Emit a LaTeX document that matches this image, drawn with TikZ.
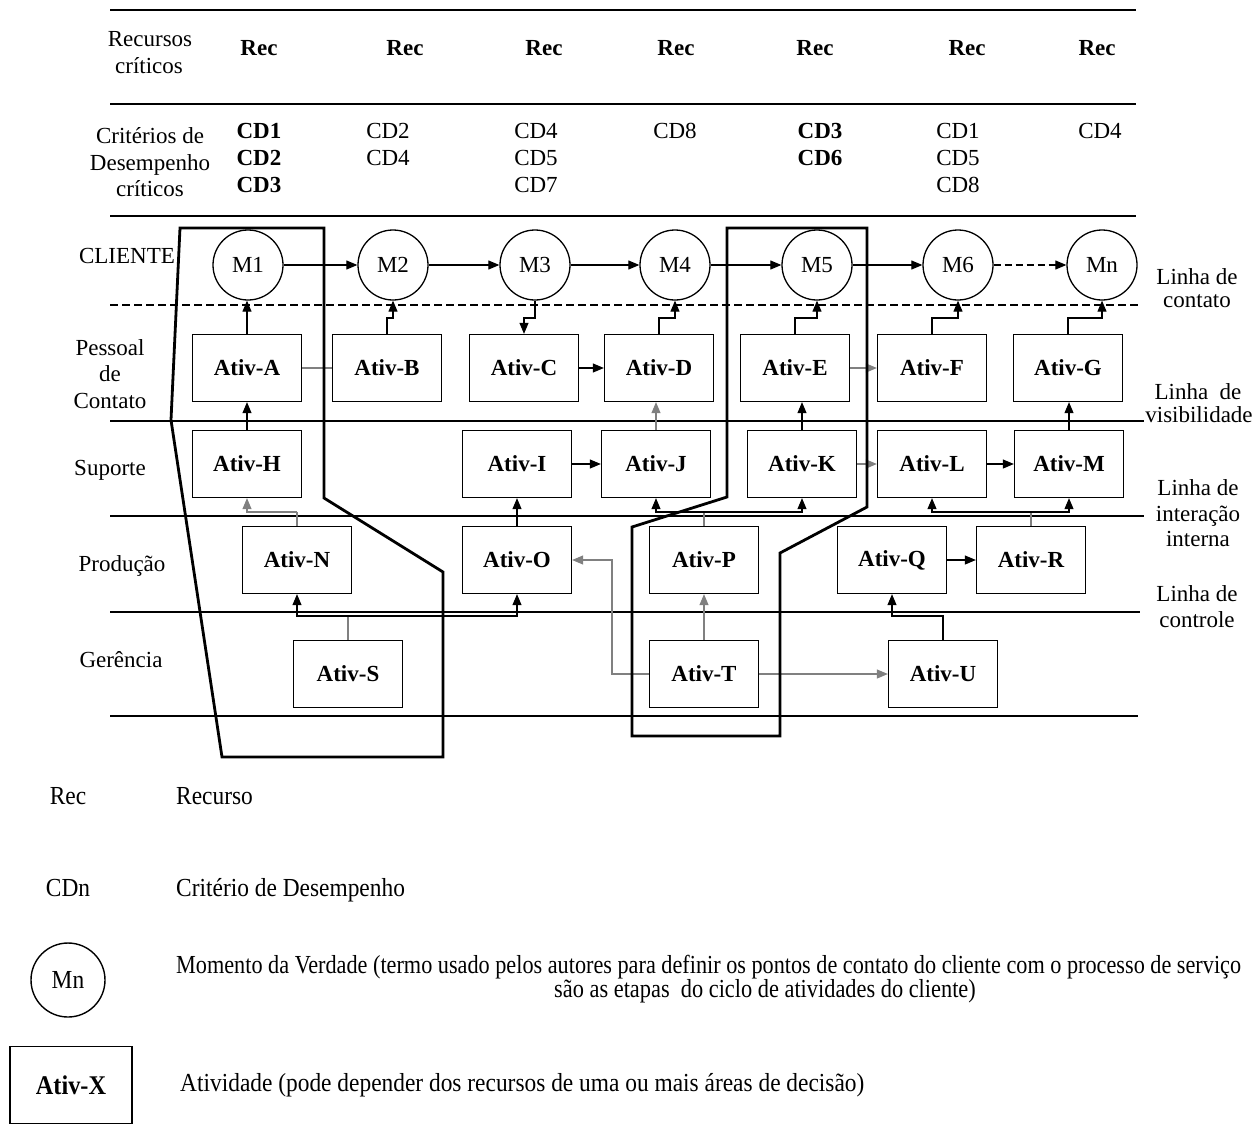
\documentclass[tikz,border=0pt]{standalone}
\usepackage{fontspec}
\setmainfont{Liberation Serif}
\usepackage{graphicx}
\usetikzlibrary{arrows.meta}

\newcommand{\legfont}[1]{\scalebox{0.9}[1]{#1}}

\begin{document}
\begin{tikzpicture}[x=1pt,y=-1pt,
  txt/.style={font=\fontsize{23}{27}\selectfont, inner sep=0pt, text height=16pt, text depth=5pt},
  btxt/.style={txt, font=\fontsize{23}{27}\selectfont\bfseries},
  legtxt/.style={font=\fontsize{26}{30}\selectfont, inner sep=0pt, text height=18pt, text depth=6pt},
  lane/.style={line width=2.3pt},
  ativ/.style={draw, line width=1.3pt, minimum width=109pt, minimum height=67pt, inner sep=0pt,
    font=\fontsize{23}{27}\selectfont\bfseries},
  mom/.style={draw, circle, line width=1.3pt, minimum size=70pt, inner sep=0pt,
    font=\fontsize{23}{27}\selectfont},
  arr/.style={line width=1.1pt, -{Triangle[length=11pt,width=9pt]}},
  garr/.style={arr, draw=black!50},
  gline/.style={line width=1.1pt, draw=black!50},
  frame/.style={line width=2.8pt, line join=miter},
]
\useasboundingbox (0,0) rectangle (1257,1124);
\fill[white] (0,0) rectangle (1257,1124);

% ---------- lane separators ----------
\draw[lane] (110,10) -- (1136,10);
\draw[lane] (110,104) -- (1136,104);
\draw[lane] (110,216) -- (1136,216);
\draw[line width=1.3pt, dash pattern=on 8pt off 4pt] (110,305) -- (1140,305);
\draw[lane] (110,421) -- (1144,421);
\draw[lane] (110,516) -- (1144,516);
\draw[lane] (110,612) -- (1140,612);
\draw[lane] (110,716) -- (1138,716);

% ---------- row headings ----------
\node[txt] (hRec1) at (150,41) {Recursos};
\node[txt] (hRec2) at (149,68) {críticos};
\node[txt] (hCD1) at (150,138) {Critérios de};
\node[txt] (hCD2) at (150,165) {Desempenho};
\node[txt] (hCD3) at (150,191) {críticos};
\node[txt] (lCli) at (127,258) {CLIENTE};
\node[txt] (lPes1) at (110,350) {Pessoal};
\node[txt] (lPes2) at (110,376) {de};
\node[txt] (lPes3) at (110,403) {Contato};
\node[txt] (lSup) at (110,470) {Suporte};
\node[txt] (lPro) at (122,566) {Produção};
\node[txt] (lGer) at (121,662) {Gerência};

% ---------- critical resources ----------
\node[btxt] (r1) at (259,50) {Rec};
\node[btxt] (r2) at (405,50) {Rec};
\node[btxt] (r3) at (544,50) {Rec};
\node[btxt] (r4) at (676,50) {Rec};
\node[btxt] (r5) at (815,50) {Rec};
\node[btxt] (r6) at (967,50) {Rec};
\node[btxt] (r7) at (1097,50) {Rec};

% ---------- critical performance criteria ----------
\node[btxt] (c1a) at (259,133) {CD1};
\node[btxt] (c1b) at (259,160) {CD2};
\node[btxt] (c1c) at (259,187) {CD3};
\node[txt] (c2a) at (388,133) {CD2};
\node[txt] (c2b) at (388,160) {CD4};
\node[txt] (c3a) at (536,133) {CD4};
\node[txt] (c3b) at (536,160) {CD5};
\node[txt] (c3c) at (536,187) {CD7};
\node[txt] (c4a) at (675,133) {CD8};
\node[btxt] (c5a) at (820,133) {CD3};
\node[btxt] (c5b) at (820,160) {CD6};
\node[txt] (c6a) at (958,133) {CD1};
\node[txt] (c6b) at (958,160) {CD5};
\node[txt] (c6c) at (958,187) {CD8};
\node[txt] (c7a) at (1100,133) {CD4};

% ---------- moments of truth ----------
\node[mom] (M1) at (248,265) {M1};
\node[mom] (M2) at (393,265) {M2};
\node[mom] (M3) at (535,265) {M3};
\node[mom] (M4) at (675,265) {M4};
\node[mom] (M5) at (817,265) {M5};
\node[mom] (M6) at (958,265) {M6};
\node[mom] (Mn) at (1102,265) {Mn};

% ---------- activities ----------
\node[ativ] (A) at (247,368) {Ativ-A};
\node[ativ] (B) at (387,368) {Ativ-B};
\node[ativ] (C) at (524,368) {Ativ-C};
\node[ativ] (D) at (659,368) {Ativ-D};
\node[ativ] (E) at (795,368) {Ativ-E};
\node[ativ] (F) at (932,368) {Ativ-F};
\node[ativ] (G) at (1068,368) {Ativ-G};

\node[ativ] (H) at (247,464) {Ativ-H};
\node[ativ] (I) at (517,464) {Ativ-I};
\node[ativ] (J) at (656,464) {Ativ-J};
\node[ativ] (K) at (802,464) {Ativ-K};
\node[ativ] (L) at (932,464) {Ativ-L};
\node[ativ] (Mb) at (1069,464) {Ativ-M};

\node[ativ] (N) at (297,560) {Ativ-N};
\node[ativ] (O) at (517,560) {Ativ-O};
\node[ativ] (P) at (704,560) {Ativ-P};
\node[ativ] (Q) at (892,560) {Ativ-Q};
\node[ativ] (R) at (1031,560) {Ativ-R};

\node[ativ] (S) at (348,674) {Ativ-S};
\node[ativ] (T) at (704,674) {Ativ-T};
\node[ativ] (U) at (943,674) {Ativ-U};

% ---------- helper levels for stepped connectors ----------
\coordinate (jogT) at (0,318);
\coordinate (jogS) at (0,512);
\coordinate (jogG) at (0,616);
\coordinate (tBend) at (612,0);

% ---------- customer flow ----------
\draw[arr] (M1) -- (M2);
\draw[arr] (M2) -- (M3);
\draw[arr] (M3) -- (M4);
\draw[arr] (M4) -- (M5);
\draw[arr] (M5) -- (M6);
\draw[arr, dash pattern=on 7pt off 4pt] (M6) -- (Mn);

% ---------- contact line crossings ----------
\draw[arr] (A.north) -- (A.north |- M1.south);
\draw[arr] (B.north) -- (B.north |- jogT) -| (M2.south);
\draw[arr] (M3.south) -- (M3.south |- jogT) -| (C.north);
\draw[arr] (D.north) -- (D.north |- jogT) -| (M4.south);
\draw[arr] (E.north) -- (E.north |- jogT) -| (M5.south);
\draw[arr] (F.north) -- (F.north |- jogT) -| (M6.south);
\draw[arr] (G.north) -- (G.north |- jogT) -| (Mn.south);

% ---------- front office ----------
\draw[gline] (A.east) -- (B.west);
\draw[arr] (C.east) -- (D.west);
\draw[garr] (E.east) -- (F.west);

% ---------- support ----------
\draw[arr] (H.north) -- (A.south);
\draw[arr] (I.east) -- (J.west);
\draw[garr] (J.north) -- (J.north |- D.south);
\draw[arr] (K.north) -- (K.north |- E.south);
\draw[garr] (K.east) -- (L.west);
\draw[arr] (L.east) -- (Mb.west);
\draw[arr] (Mb.north) -- (Mb.north |- G.south);

% ---------- production ----------
\draw[gline] (N.north) -- (N.north |- jogS);
\draw[garr] (N.north |- jogS) -| (H.south);
\draw[arr] (O.north) -- (I.south);
\draw[gline] (P.north) -- (P.north |- jogS);
\draw[arr] (P.north |- jogS) -| (J.south);
\draw[arr] (P.north |- jogS) -| (K.south);
\draw[gline] (R.north) -- (R.north |- jogS);
\draw[arr] (R.north |- jogS) -| (L.south);
\draw[arr] (R.north |- jogS) -| (Mb.south);
\draw[arr] (Q.east) -- (R.west);

% ---------- management ----------
\draw[gline] (S.north) -- (S.north |- jogG);
\draw[arr] (S.north |- jogG) -| (N.south);
\draw[arr] (S.north |- jogG) -| (O.south);
\draw[garr] (T.north) -- (P.south);
\draw[garr] (T.west) -- (T.west -| tBend) |- (O.east);
\draw[garr] (T.east) -- (U.west);
\draw[arr] (U.north) -- (U.north |- jogG) -| (Q.south);

% ---------- grouping frames ----------
\draw[frame] (180,228) -- (324,228) -- (324,498) -- (443,572) -- (443,757)
  -- (222,757) -- (171,420) -- cycle;
\draw[frame] (727,228) -- (867,228) -- (867,507) -- (780,553) -- (780,736)
  -- (632,736) -- (632,527) -- (727,497) -- cycle;

% ---------- line names ----------
\node[txt] (nCon1) at (1197,279) {Linha de};
\node[txt] (nCon2) at (1197,302) {contato};
\node[txt] (nVis1) at (1198,394) {Linha\ \ de};
\node[txt] (nVis2) at (1199,417) {visibilidade};
\node[txt] (nInt1) at (1198,490) {Linha de};
\node[txt] (nInt2) at (1198,516) {interação};
\node[txt] (nInt3) at (1198,541) {interna};
\node[txt] (nCtl1) at (1197,596) {Linha de};
\node[txt] (nCtl2) at (1197,622) {controle};

% ---------- legend ----------
\node[legtxt] (kRec) at (68,798) {\legfont{Rec}};
\node[legtxt, anchor=west] (kRecT) at (176,798) {\legfont{Recurso}};
\node[legtxt] (kCD) at (68,890) {\legfont{CDn}};
\node[legtxt, anchor=west] (kCDT) at (176,890) {\legfont{Critério de Desempenho}};
\node[draw, circle, line width=1.4pt, minimum size=74pt, inner sep=0pt,
  font=\fontsize{26}{30}\selectfont] (kM) at (68,980) {\legfont{Mn}};
\node[legtxt, anchor=west] (kMT1) at (176,967)
  {\scalebox{0.855}[1]{Momento da Verdade (termo usado pelos autores para definir os pontos de contato do cliente com o processo de serviço}};
\node[legtxt] (kMT2) at (765,991) {\scalebox{0.86}[1]{são as etapas\ \ do ciclo de atividades do cliente)}};
\node[draw, line width=1.4pt, minimum width=122pt, minimum height=77pt, inner sep=0pt,
  font=\fontsize{27}{30}\selectfont\bfseries] (kA) at (71,1085) {\legfont{Ativ-X}};
\node[legtxt, anchor=west] (kAT) at (180,1085)
  {\legfont{Atividade (pode depender dos recursos de uma ou mais áreas de decisão)}};
\end{tikzpicture}
\end{document}
